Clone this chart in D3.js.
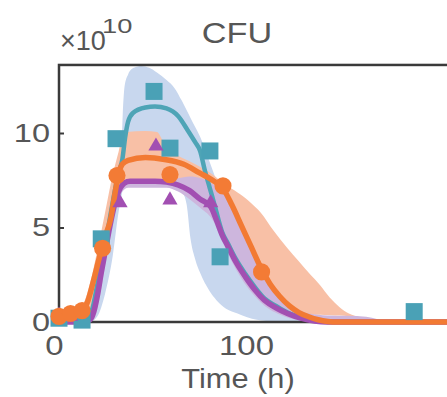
<!DOCTYPE html>
<html>
<head>
<meta charset="utf-8">
<script src="https://cdn.jsdelivr.net/npm/d3@7"></script>
<style>
  html, body { margin: 0; padding: 0; background: #fff; }
  svg { display: block; }
</style>
</head>
<body>
<svg id="chart" width="447" height="397"></svg>
<script>
// ---- observed CFU (x10^10) ----
const tealObsT   = [0, 12, 22, 29.7, 49.5, 57.8, 78.6, 83.9, 185];
const tealObsV   = [0.2, 0.1, 4.4, 9.7, 12.2, 9.2, 9.05, 3.45, 0.55];
const purpleObsT = [0, 6, 31.8, 50.5, 57.8, 79];
const purpleObsV = [0.35, 0.3, 6.3, 9.3, 6.45, 6.3];
const orangeObsT = [0, 6, 12, 22.7, 30.2, 57.8, 85.4, 105.5];
const orangeObsV = [0.3, 0.45, 0.6, 3.9, 7.75, 7.8, 7.2, 2.65];

// ---- model fits ----
const tealFitT = [0, 10, 14, 17, 20, 23, 26, 29, 31, 33, 34.5, 36, 38.5, 45, 50, 56, 62, 67, 71, 73.5, 76, 78.5, 81, 85, 88, 92, 97, 102, 107, 113, 119, 126, 133, 140, 210];
const tealFitV = [0.05, 0.1, 0.3, 0.6, 2.0, 3.6, 5.2, 6.9, 7.9, 8.6, 9.8, 10.6, 11.06, 11.35, 11.4, 11.3, 10.9, 10.15, 9.5, 9.05, 8.0, 7.1, 6.2, 4.75, 4.15, 3.35, 2.55, 1.85, 1.25, 0.85, 0.5, 0.25, 0.07, 0, 0];

const purpleFitT = [0, 12, 16, 18, 20, 22, 24, 26, 28, 30, 32, 34, 37, 50, 56, 62, 68, 73.5, 79, 82, 85, 88, 92, 97, 102, 107, 113, 119, 126, 133, 140, 210];
const purpleFitV = [0, 0, 0.1, 0.5, 1.4, 2.6, 3.7, 4.8, 5.8, 6.6, 7.1, 7.35, 7.45, 7.45, 7.4, 7.25, 6.95, 6.5, 6.1, 5.4, 4.6, 4.0, 3.2, 2.4, 1.7, 1.15, 0.75, 0.45, 0.2, 0.05, 0, 0];

const orangeFitT = [0, 6, 12, 15, 18, 21, 24, 27, 28.5, 30, 31.5, 33, 36, 45, 55, 65, 73, 80, 85.5, 90, 95, 100, 105.5, 110, 115, 120, 125, 130, 135, 140, 145, 210];
const orangeFitV = [0.25, 0.35, 0.6, 1.1, 2.2, 3.4, 4.5, 5.5, 6.4, 7.3, 8.0, 8.35, 8.55, 8.7, 8.6, 8.35, 7.9, 7.5, 7.05, 6.2, 5.1, 4.0, 2.8, 2.0, 1.35, 0.85, 0.5, 0.28, 0.12, 0.03, 0, 0];

// ---- uncertainty bands ----
const tealBandT  = [0, 12, 16, 20, 24, 28, 31, 32.5, 33.2, 34.2, 36, 39, 43, 47, 51, 56, 60, 64, 66.5, 68.5, 71, 73.5, 78, 82, 87, 93, 98, 103, 108, 114, 120, 126, 132, 140];
const tealBandLo = [0, 0, 0, 0.3, 1.5, 3.5, 5.8, 6.6, 7.0, 7.1, 7.2, 7.3, 7.3, 7.3, 7.3, 7.3, 7.2, 6.9, 6.2, 4.4, 3.3, 2.6, 1.7, 1.15, 0.7, 0.45, 0.25, 0.12, 0.05, 0, 0, 0, 0, 0];
const tealBandHi = [0.3, 0.4, 1.0, 2.3, 4.3, 6.3, 8.3, 9.2, 11.0, 12.5, 13.1, 13.45, 13.55, 13.45, 13.2, 12.8, 12.4, 11.7, 11.2, 10.8, 10.3, 9.8, 8.6, 7.5, 6.3, 5.0, 3.9, 2.9, 2.0, 1.2, 0.7, 0.35, 0.15, 0];

const orangeBandT  = [0, 12, 16, 20, 24, 28, 31, 33, 35, 45, 51, 54, 57, 62, 70, 80, 86, 90, 93, 100, 105, 112, 119, 125, 131, 136, 141, 146, 151, 157, 163, 168];
const orangeBandLo = [0, 0.2, 0.6, 1.8, 3.6, 5.6, 6.7, 7.2, 7.4, 7.45, 7.45, 7.45, 7.45, 7.4, 7.3, 7.0, 6.6, 5.9, 5.3, 4.0, 2.9, 1.7, 0.95, 0.55, 0.4, 0.38, 0.36, 0.34, 0.3, 0.2, 0.1, 0];
const orangeBandHi = [0.6, 0.9, 2.0, 3.8, 5.8, 7.8, 9.0, 9.8, 10.05, 10.1, 10.05, 9.6, 9.1, 8.8, 8.4, 7.8, 7.3, 7.05, 6.85, 6.3, 5.8, 4.8, 3.9, 3.2, 2.5, 1.95, 1.3, 0.8, 0.45, 0.25, 0.12, 0];

const purpleBandT  = [0, 15, 18, 21, 24, 27, 30, 33, 36, 56, 62, 68, 74, 80, 85, 90, 95, 100, 105, 110, 115, 120, 125, 130, 140, 150, 160, 166, 170];
const purpleBandLo = [0, 0, 0.1, 1.2, 3.0, 4.8, 6.2, 6.9, 7.1, 7.1, 6.9, 6.5, 6.0, 5.4, 4.3, 3.2, 2.3, 1.6, 1.05, 0.65, 0.4, 0.2, 0.1, 0, 0, 0, 0, 0, 0];
const purpleBandHi = [0.1, 0.2, 0.8, 2.4, 4.3, 5.9, 7.0, 7.4, 7.45, 7.45, 7.6, 7.7, 7.6, 7.3, 6.9, 6.1, 5.1, 4.1, 3.0, 2.1, 1.4, 0.95, 0.65, 0.45, 0.35, 0.33, 0.28, 0.15, 0];

const xTicks = [0, 100];
const yTicks = [0, 5, 10];

// ---- layout ----
const svg = d3.select("#chart");
const FONT = "'Liberation Sans', Arial, Helvetica, sans-serif";
const TEXT = "#565656";
const AXIS = "#3a3a3a";

const x = d3.scaleLinear().domain([0, 210]).range([59, 59 + 210 * 1.92]);
const y = d3.scaleLinear().domain([0, 13.6]).range([322, 322 - 13.6 * 18.9]);

const [xL, xR] = x.range();
const [yB, yT] = y.range();

const defs = svg.append("defs");
defs.append("clipPath").attr("id", "plotClip")
  .append("rect").attr("x", xL).attr("y", yT).attr("width", xR - xL).attr("height", yB - yT);
defs.append("clipPath").attr("id", "lineClip")
  .append("rect").attr("x", xL).attr("y", yT).attr("width", xR - xL).attr("height", yB - yT + 10);

// ---- bands ----
const rows = (T, lo, hi) => T.map((t, i) => ({ t, lo: lo[i], hi: hi[i] }));
const area = d3.area()
  .x(d => x(d.t)).y0(d => y(d.lo)).y1(d => y(d.hi))
  .curve(d3.curveMonotoneX);

const bands = svg.append("g").attr("clip-path", "url(#plotClip)");
bands.append("path").datum(rows(tealBandT, tealBandLo, tealBandHi))
  .attr("d", area).attr("fill", "#c8d7ee");
bands.append("path").datum(rows(orangeBandT, orangeBandLo, orangeBandHi))
  .attr("d", area).attr("fill", "#f8c0a6");
bands.append("path").datum(rows(purpleBandT, purpleBandLo, purpleBandHi))
  .attr("d", area).attr("fill", "#cdb6dd");

// ---- axes box ----
svg.append("rect")
  .attr("x", xL).attr("y", yT).attr("width", xR - xL).attr("height", yB - yT)
  .attr("fill", "none").attr("stroke", AXIS).attr("stroke-width", 2.5);

function stretchText(sel, sx, shift) {
  sel.each(function () {
    const t = d3.select(this);
    const x0 = +t.attr("x") || 0;
    t.attr("x", 0).attr("transform", `translate(${x0 + shift},0) scale(${sx},1)`);
  });
}

const yAxis = svg.append("g")
  .attr("transform", `translate(${xL},0)`)
  .call(d3.axisLeft(y).tickValues(yTicks).tickSize(-5).tickPadding(9).tickFormat(d3.format("d")));
yAxis.select(".domain").remove();
yAxis.selectAll(".tick line").attr("stroke", AXIS).attr("stroke-width", 2);
yAxis.selectAll("text").attr("font-size", 26).attr("font-family", FONT).attr("fill", TEXT)
  .call(stretchText, 1.25, 0);

const xAxis = svg.append("g")
  .attr("transform", `translate(0,${yB})`)
  .call(d3.axisBottom(x).tickValues(xTicks).tickSize(0).tickPadding(14).tickFormat(d3.format("d")));
xAxis.select(".domain").remove();
xAxis.selectAll("text").attr("font-size", 27).attr("font-family", FONT).attr("fill", TEXT)
  .call(stretchText, 1.22, -5);

// ---- fitted curves ----
const line = d3.line().x(d => x(d.t)).y(d => y(d.v)).curve(d3.curveMonotoneX);
const pts = (T, V) => T.map((t, i) => ({ t, v: V[i] }));
const curves = svg.append("g").attr("clip-path", "url(#lineClip)")
  .attr("fill", "none").attr("stroke-linejoin", "round").attr("stroke-linecap", "round");
curves.append("path").datum(pts(tealFitT, tealFitV)).attr("d", line)
  .attr("stroke", "#4ea4b6").attr("stroke-width", 4.5);
curves.append("path").datum(pts(purpleFitT, purpleFitV)).attr("d", line)
  .attr("stroke", "#a24fb2").attr("stroke-width", 5.5);
curves.append("path").datum(pts(orangeFitT, orangeFitV)).attr("d", line)
  .attr("stroke", "#f27a33").attr("stroke-width", 5.5);

// ---- observations ----
function markers(T, V, type, size, color) {
  svg.append("g").selectAll("path").data(pts(T, V)).join("path")
    .attr("transform", d => `translate(${x(d.t)},${y(d.v)})`)
    .attr("d", d3.symbol().type(type).size(size))
    .attr("fill", color);
}
markers(tealObsT, tealObsV, d3.symbolSquare, 289, "#4aa1b6");
markers(purpleObsT, purpleObsV, d3.symbolTriangle, 100, "#a24fb2");
markers(orangeObsT, orangeObsV, d3.symbolCircle, 230, "#f37b35");

// ---- titles ----
function label(px, py, str, size, sx, anchor) {
  svg.append("g").attr("transform", `translate(${px},${py})`)
    .append("text").text(str)
    .attr("font-family", FONT).attr("font-size", size).attr("fill", TEXT)
    .attr("text-anchor", anchor).attr("transform", `scale(${sx},1)`);
}
label(237, 43, "CFU", 29, 1.18, "middle");
label(238, 388, "Time (h)", 27, 1.14, "middle");
label(60, 50, "×10", 27, 1, "start");
label(102, 33, "10", 21, 1.3, "start");
</script>
</body>
</html>
